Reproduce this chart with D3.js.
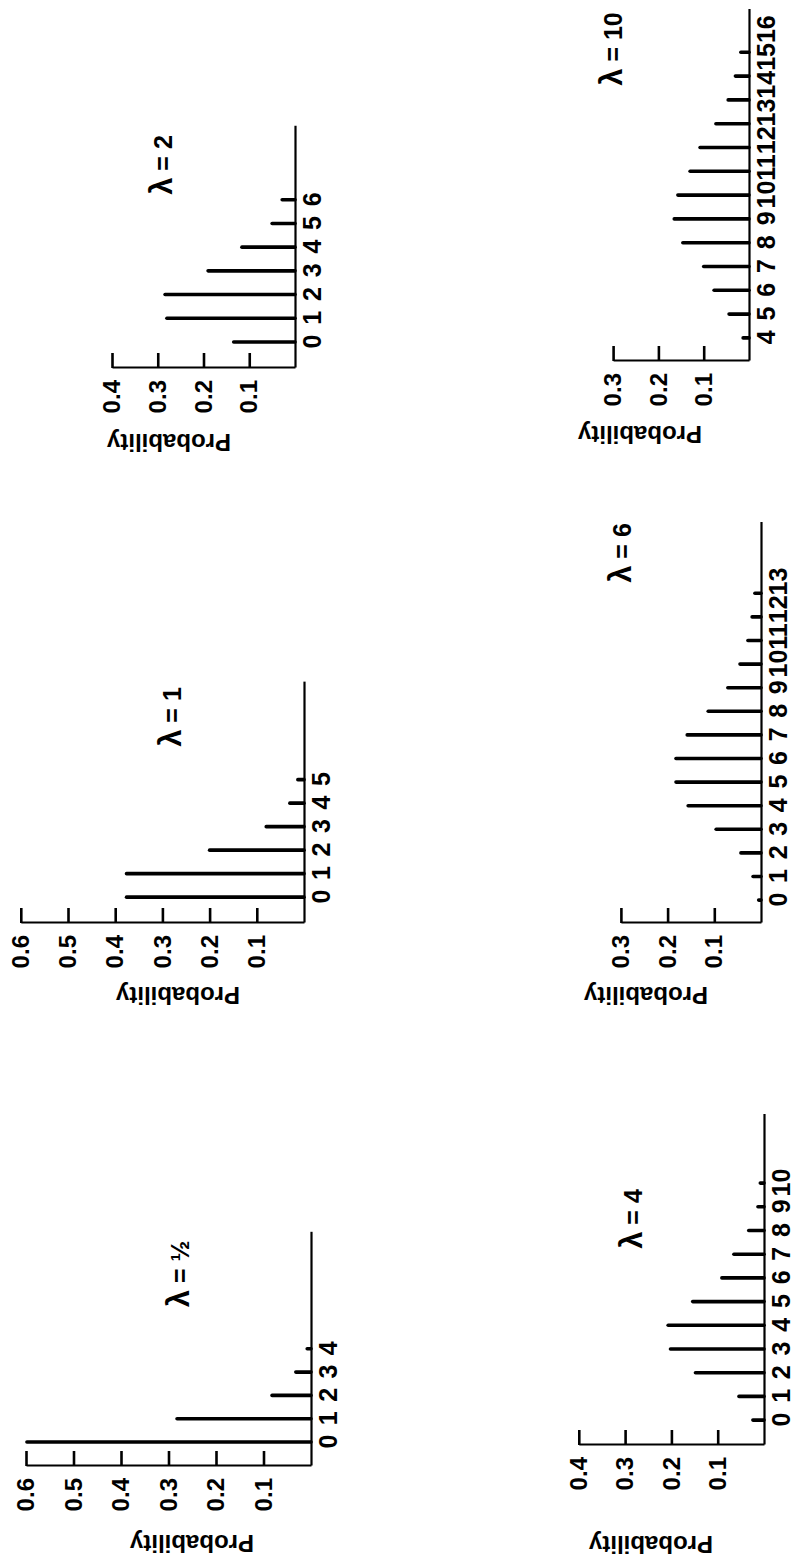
<!DOCTYPE html>
<html>
<head>
<meta charset="utf-8">
<script src="https://cdn.jsdelivr.net/npm/d3@7"></script>
<style>
  html, body { margin: 0; padding: 0; background: #fff; }
  svg { display: block; }
</style>
</head>
<body>
<script>
// Poisson probability distributions for six values of lambda.
const lambdaNames = ["½", "1", "2", "4", "6", "10"];

const countsHalf = [0, 1, 2, 3, 4];
const probHalf   = [0.598, 0.282, 0.082, 0.032, 0.008];

const countsOne = [0, 1, 2, 3, 4, 5];
const probOne   = [0.376, 0.376, 0.200, 0.080, 0.030, 0.013];

const countsTwo = [0, 1, 2, 3, 4, 5, 6];
const probTwo   = [0.134, 0.280, 0.284, 0.190, 0.116, 0.050, 0.028];

const countsFour = [0, 1, 2, 3, 4, 5, 6, 7, 8, 9, 10];
const probFour   = [0.024, 0.054, 0.148, 0.202, 0.207, 0.154, 0.091, 0.065, 0.033, 0.013, 0.008];

const countsSix = [0, 1, 2, 3, 4, 5, 6, 7, 8, 9, 10, 11, 12, 13];
const probSix   = [0.005, 0.017, 0.043, 0.096, 0.156, 0.182, 0.182, 0.158, 0.113, 0.071, 0.045, 0.028, 0.019, 0.013];

const countsTen = [4, 5, 6, 7, 8, 9, 10, 11, 12, 13, 14, 15, 16];
const probTen   = [0.013, 0.044, 0.077, 0.100, 0.146, 0.165, 0.157, 0.130, 0.108, 0.073, 0.046, 0.030, 0.018];

const yTicksSix = [0.1, 0.2, 0.3, 0.4, 0.5, 0.6];
const yTicksFour = [0.1, 0.2, 0.3, 0.4];
const yTicksThree = [0.1, 0.2, 0.3];

const counts = [countsHalf, countsOne, countsTwo, countsFour, countsSix, countsTen];
const probs  = [probHalf, probOne, probTwo, probFour, probSix, probTen];
const yTicks = [yTicksSix, yTicksSix, yTicksFour, yTicksFour, yTicksThree, yTicksThree];

// Panel placement in the landscape figure frame (1560 x 796), which is
// turned a quarter turn counter-clockwise onto the portrait page.
const layout = [
  { ox: 94,   oy: 311, xMin: -1.03, xMax: 9.0,  step: 23.3, yPer: 47.5, lamX: 286,  lamY: 189, probX: 17,   probY: 192 },
  { ox: 637,  oy: 304, xMin: -1.1,  xMax: 9.15, step: 23.5, yPer: 47.2, lamX: 843,  lamY: 181, probX: 565,  probY: 178 },
  { ox: 1192, oy: 295, xMin: -1.1,  xMax: 9.1,  step: 23.7, yPer: 45.75, lamX: 1395, lamY: 172, probX: 1118, probY: 169 },
  { ox: 115,  oy: 764, xMin: -1.05, xMax: 12.9, step: 23.7, yPer: 46.3, lamX: 341,  lamY: 642, probX: 16,   probY: 651 },
  { ox: 637,  oy: 761, xMin: -0.97, xMax: 16.0, step: 23.6, yPer: 46.7, lamX: 1007, lamY: 631, probX: 565,  probY: 646 },
  { ox: 1199, oy: 749, xMin: 3.03,  xMax: 17.8, step: 23.8, yPer: 45.3, lamX: 1511, lamY: 622, probX: 1126, probY: 640 }
];

const W = 796, H = 1560;
const FONT = "'Liberation Sans', Arial, Helvetica, sans-serif";

const svg = d3.select("body").append("svg")
  .attr("width", W)
  .attr("height", H);

svg.append("rect").attr("width", W).attr("height", H).attr("fill", "#fff");

const fig = svg.append("g")
  .attr("transform", `translate(0,${H}) rotate(-90)`);

layout.forEach((L, i) => {
  const yMax = d3.max(yTicks[i]);
  const x = d3.scaleLinear()
    .domain([L.xMin, L.xMax])
    .range([L.ox, L.ox + (L.xMax - L.xMin) * L.step]);
  const y = d3.scaleLinear()
    .domain([0, yMax])
    .range([L.oy, L.oy - yMax * 10 * L.yPer]);

  const g = fig.append("g").attr("class", "panel");

  // spikes
  g.append("g")
    .selectAll("line")
    .data(d3.zip(counts[i], probs[i]))
    .join("line")
    .attr("x1", d => x(d[0]))
    .attr("x2", d => x(d[0]))
    .attr("y1", y(0))
    .attr("y2", d => y(d[1]))
    .attr("stroke", "#000")
    .attr("stroke-width", 3.6)
    .attr("stroke-linecap", "round");

  // count axis
  const xg = g.append("g")
    .attr("transform", `translate(0,${L.oy})`)
    .call(d3.axisBottom(x)
      .tickValues(counts[i])
      .tickSize(0)
      .tickPadding(8)
      .tickFormat(d3.format("d")));

  // probability axis, ticks pointing inward
  const yg = g.append("g")
    .attr("transform", `translate(${L.ox},0)`)
    .call(d3.axisLeft(y)
      .tickValues(yTicks[i])
      .tickSizeInner(-15)
      .tickSizeOuter(0)
      .tickPadding(12)
      .tickFormat(d3.format(".1f")));

  xg.attr("font-size", 25);
  yg.attr("font-size", 24);
  [xg, yg].forEach(a => {
    a.attr("font-family", FONT).attr("font-weight", "bold");
    a.select(".domain").attr("stroke", "#000").attr("stroke-width", 2.2);
    a.selectAll(".tick line").attr("stroke", "#000").attr("stroke-width", 2.6);
    a.selectAll(".tick text").attr("fill", "#000");
  });

  // keep wide count labels from overlapping: push each one past its neighbour
  let prevRight = -Infinity;
  xg.selectAll(".tick text").each(function (d) {
    const w = this.getComputedTextLength();
    const c = x(d);
    const centre = Math.max(c, prevRight + w / 2);
    d3.select(this).attr("dx", centre - c);
    prevRight = centre + w / 2;
  });

  // axis title
  g.append("text")
    .attr("transform", `translate(${L.probX},${L.probY}) rotate(-90)`)
    .attr("text-anchor", "middle")
    .attr("dy", "0.35em")
    .attr("font-family", FONT)
    .attr("font-size", 24)
    .attr("font-weight", "bold")
    .attr("fill", "#000")
    .text("Probability");

  // lambda caption
  const cap = g.append("text")
    .attr("x", L.lamX)
    .attr("y", L.lamY)
    .attr("text-anchor", "middle")
    .attr("font-family", FONT)
    .attr("font-weight", "bold")
    .attr("font-size", 25)
    .attr("fill", "#000");
  cap.append("tspan").attr("font-size", 31).text("λ");
  cap.append("tspan").text(" = " + lambdaNames[i]);
});
</script>
</body>
</html>
